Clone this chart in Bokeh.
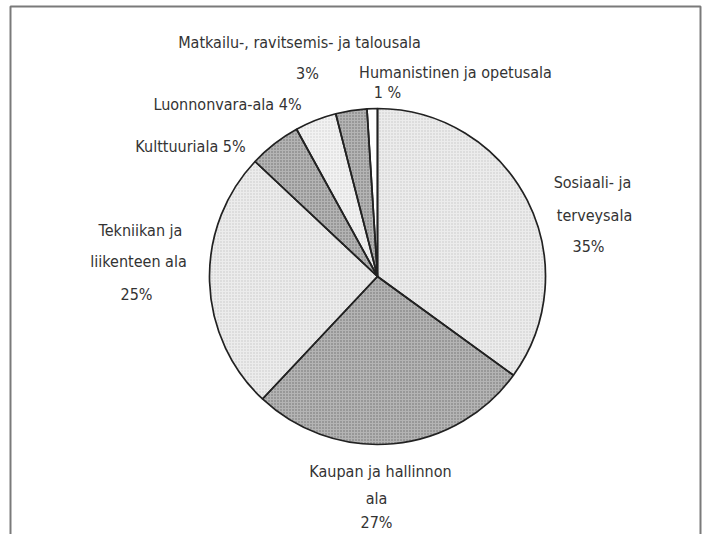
import numpy as np
from bokeh.plotting import figure
from bokeh.models import Range1d, ColumnDataSource
from bokeh.core.properties import value
from bokeh.embed import file_html
from bokeh.resources import INLINE

# ---- data ----
categories = ["Sosiaali- ja terveysala", "Kaupan ja hallinnon ala",
              "Tekniikan ja liikenteen ala", "Kulttuuriala", "Luonnonvara-ala",
              "Matkailu-, ravitsemis- ja talousala", "Humanistinen ja opetusala"]
shares = [35, 27, 25, 5, 4, 3, 1]
label_lines = [
    ["Sosiaali- ja", "terveysala", "35%"],
    ["Kaupan ja hallinnon", "ala", "27%"],
    ["Tekniikan ja", "liikenteen ala", "25%"],
    ["Kulttuuriala 5%"],
    ["Luonnonvara-ala 4%"],
    ["Matkailu-, ravitsemis- ja talousala", "3%"],
    ["Humanistinen ja opetusala", "1 %"],
]

# ---- styles / layout (picture pixel coordinates, y downwards) ----
fills = ["#ececec", "#b4b4b4", "#ececec", "#b4b4b4", "#f2f2f2", "#b4b4b4", "#ffffff"]
hatch_cols = ["#c4c4c4", "#6e6e6e", "#c4c4c4", "#6e6e6e", "#cfcfcf", "#6e6e6e", "#ffffff"]
W, HGT = 702, 534
cx, cy, r = 377, 276, 168
label_pos = [
    [(592, 182), (594, 215), (588, 246)],
    [(380, 471), (376, 498), (376, 522)],
    [(140, 230), (138, 261), (136, 294)],
    [(190, 146)],
    [(227, 104)],
    [(299, 42), (307, 73)],
    [(455, 72), (387, 92)],
]
FONT = "Liberation Sans Narrow, DejaVu Sans Condensed, Roboto, sans-serif"
FSIZE = "16px"

p = figure(width=W, height=HGT, output_backend="svg", toolbar_location=None,
           x_range=Range1d(0, W), y_range=Range1d(-HGT, 0),
           min_border=0)
p.axis.visible = False
p.grid.visible = False
p.outline_line_color = None
p.background_fill_color = "white"

# frame
fx0, fx1, fy0 = 10, 700, 6
p.line([fx0, fx0, fx1, fx1], [-600, -fy0, -fy0, -600],
       line_color="#7a7a7a", line_width=2)

fr = np.array(shares, dtype=float) / sum(shares)
cum = np.concatenate([[0], np.cumsum(fr)])
start = np.pi / 2 - cum[:-1] * 2 * np.pi
end = np.pi / 2 - cum[1:] * 2 * np.pi
src = ColumnDataSource(dict(start=start, end=end, fill=fills, hcol=hatch_cols,
                            cat=categories))
p.wedge(x=cx, y=-cy, radius=r, start_angle="start", end_angle="end",
        direction="clock", fill_color="fill", line_color=None,
        hatch_pattern="dot", hatch_color="hcol", hatch_scale=3, hatch_weight=1.2,
        source=src)
p.wedge(x=cx, y=-cy, radius=r, start_angle="start", end_angle="end",
        direction="clock", fill_color=None, line_color="#222222",
        line_width=1.7, source=src)

xs, ys, ts = [], [], []
for lines, pos in zip(label_lines, label_pos):
    for t, (x, y) in zip(lines, pos):
        xs.append(x); ys.append(-y); ts.append(t)
p.text(x=xs, y=ys, text=ts, text_align="center", text_baseline="middle",
       text_font=value(FONT), text_font_size=FSIZE, text_color="#333333")

open("out.html", "w").write(file_html(p, INLINE))
